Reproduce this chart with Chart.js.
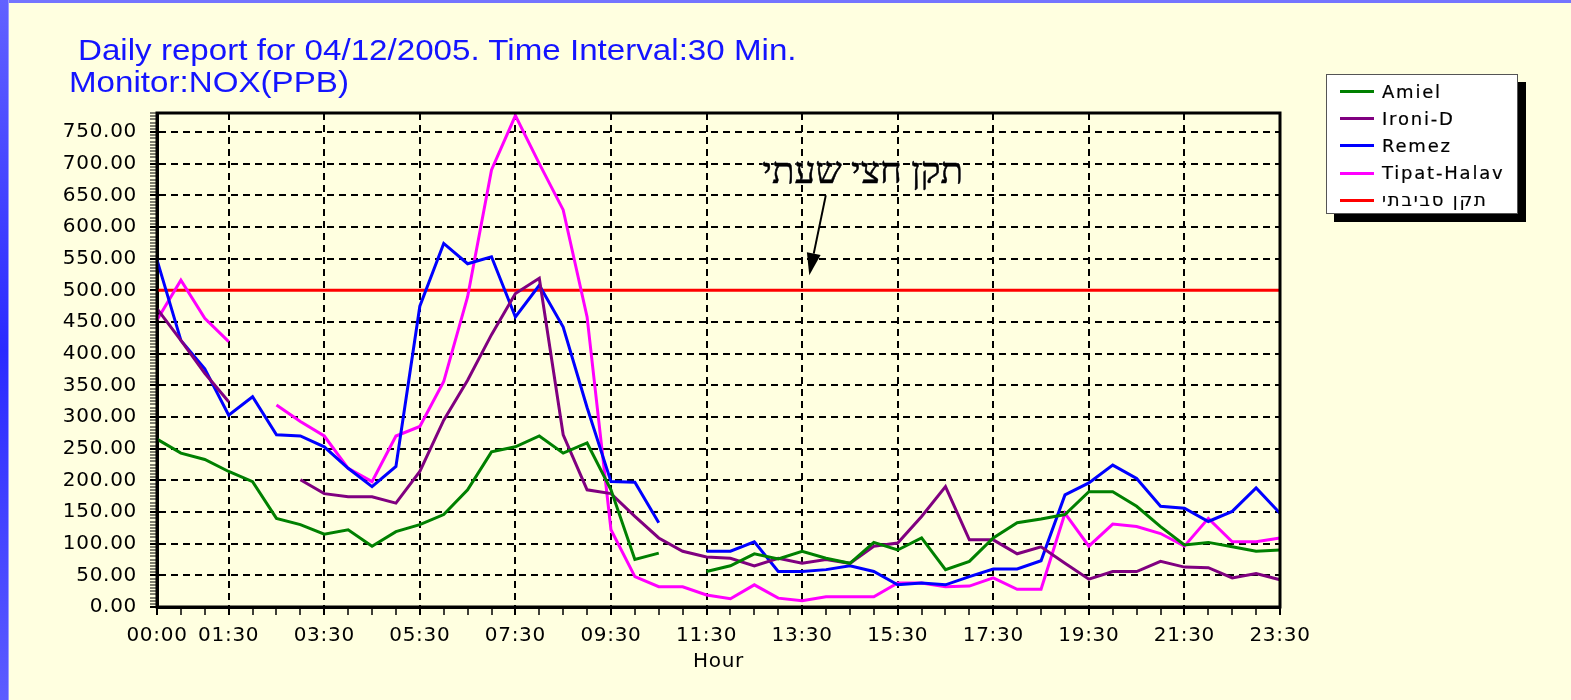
<!DOCTYPE html>
<html>
<head>
<meta charset="utf-8">
<script src="https://cdn.jsdelivr.net/npm/chart.js@4.4.0/dist/chart.umd.min.js"></script>
<style>
  html, body { margin: 0; padding: 0; }
  body { width: 1571px; height: 700px; background: #FFFFE0; position: relative; overflow: hidden; font-family: "DejaVu Sans", sans-serif; }
  #c { position: absolute; left: 0; top: 0; }
  #leftbar { position: absolute; left: 0; top: 0; width: 8px; height: 700px; background: linear-gradient(#6262ff, #2a2aff 50%, #5c5cff); border-right: 1px solid #9a9aff; }
  #topbar { position: absolute; left: 0; top: 0; width: 1571px; height: 3px; background: #7474ff; }
  .title { position: absolute; font-family: "Liberation Sans", Arial, sans-serif; font-size: 29px; line-height: 29px; color: #1414ff; white-space: nowrap; transform-origin: 0 0; transform: scaleX(1.143); }
  #legend { position: absolute; left: 1326px; top: 74px; width: 190px; height: 138px; background: #fff; border: 1px solid #555; box-shadow: 8px 8px 0 #000; }
  .row { position: absolute; left: 0; width: 190px; height: 20px; }
  .swatch { position: absolute; left: 13px; top: 8.5px; width: 34px; height: 3px; }
  .lbl { position: absolute; left: 55px; top: 0; font-size: 18px; line-height: 20px; letter-spacing: 1.8px; white-space: nowrap; color: #000; -webkit-text-stroke: 0.2px #000; }
  .lbl.he { direction: rtl; unicode-bidi: isolate; }
  #note { position: absolute; left: 700px; top: 152px; width: 263px; text-align: right; direction: rtl; font-family: "Liberation Serif", "DejaVu Serif", serif; font-size: 37px; line-height: 37px; color: #000; white-space: nowrap; -webkit-text-stroke: 0.5px #000; text-shadow: 0 0 2px #fff, 0 0 2px #fff; }
</style>
</head>
<body>
<canvas id="c" width="1571" height="700"></canvas>
<div id="topbar"></div>
<div id="leftbar"></div>
<div class="title" style="left:78px; top:36px;">Daily report for 04/12/2005. Time Interval:30 Min.</div>
<div class="title" style="left:69px; top:68px;">Monitor:NOX(PPB)</div>
<div id="note">תקן חצי שעתי</div>
<div id="legend"></div>
<script>
// ---- data ----
const hours = ['00:00','00:30','01:00','01:30','02:00','02:30','03:00','03:30','04:00','04:30','05:00','05:30',
  '06:00','06:30','07:00','07:30','08:00','08:30','09:00','09:30','10:00','10:30','11:00','11:30',
  '12:00','12:30','13:00','13:30','14:00','14:30','15:00','15:30','16:00','16:30','17:00','17:30',
  '18:00','18:30','19:00','19:30','20:00','20:30','21:00','21:30','22:00','22:30','23:00','23:30'];
const shownHours = ['00:00','01:30','03:30','05:30','07:30','09:30','11:30','13:30','15:30','17:30','19:30','21:30','23:30'];

const amiel = [265,243,233,214,198,140,130,115,122,96,119,130,146,185,245,253,270,243,259,185,75,85,null,56,
  65,84,76,88,77,69,102,90,109,59,72,109,133,139,146,182,182,159,127,98,102,95,88,90];
const ironiD = [471,421,369,324,null,null,201,179,174,174,164,214,295,358,430,495,519,272,185,179,143,109,88,79,
  77,65,77,69,75,69,96,101,143,190,106,106,84,95,69,44,56,56,72,63,62,46,53,43];
const remez = [548,421,376,303,332,272,270,253,219,190,222,475,574,542,553,458,508,442,315,198,197,133,null,88,
  88,103,56,56,59,65,56,35,38,35,48,60,60,73,177,196,224,203,159,156,135,151,188,148];
const tipatHalav = [453,516,456,419,null,319,293,270,219,198,270,285,356,490,690,776,700,627,458,122,48,32,32,19,
  13,35,14,10,16,16,16,38,38,32,33,46,28,28,148,96,131,127,116,96,140,103,103,109];
const envStandard = [500,500,500,500,500,500,500,500,500,500,500,500,500,500,500,500,500,500,500,500,500,500,500,500,
  500,500,500,500,500,500,500,500,500,500,500,500,500,500,500,500,500,500,500,500,500,500,500,500];

const seriesNames = ['Amiel','Ironi-D','Remez','Tipat-Halav','תקן סביבתי'];
const seriesColors = ['#008000','#800080','#0000ff','#ff00ff','#ff0000'];
const seriesValues = [amiel, ironiD, remez, tipatHalav, envStandard];

const yMax = 780, yMinorStep = 5, yMajorStep = 50;
// annotation arrow (in data units: x = category index, y = value)
const arrowTail = { x: 27.99, y: 650 };
const arrowTip = { x: 27.3, y: 524 };

// ---- plugins ----
const spacing = {
  id: 'spacing',
  beforeLayout(c) { c.ctx.letterSpacing = '0.7px'; },
  beforeDraw(c) { c.ctx.letterSpacing = '0.7px'; }
};
const frame = {
  id: 'frame',
  afterDatasetsDraw(c) {
    const { ctx, chartArea: a } = c;
    ctx.save();
    ctx.lineWidth = 3;
    ctx.strokeStyle = '#000';
    ctx.setLineDash([]);
    ctx.strokeRect(a.left, a.top, a.right - a.left, a.bottom - a.top);
    ctx.restore();
  }
};
const arrow = {
  id: 'arrow',
  afterDatasetsDraw(c) {
    const { ctx } = c;
    const xs = c.scales.x, ys = c.scales.y;
    const tx = xs.getPixelForValue(arrowTail.x), ty = ys.getPixelForValue(arrowTail.y);
    const hx = xs.getPixelForValue(arrowTip.x), hy = ys.getPixelForValue(arrowTip.y);
    const dx = hx - tx, dy = hy - ty, len = Math.hypot(dx, dy);
    const ux = dx / len, uy = dy / len;
    const headLen = 22, headHalf = 7;
    const bx = hx - ux * headLen, by = hy - uy * headLen;
    ctx.save();
    ctx.strokeStyle = '#000';
    ctx.fillStyle = '#000';
    ctx.lineWidth = 2;
    ctx.beginPath(); ctx.moveTo(tx, ty); ctx.lineTo(bx, by); ctx.stroke();
    ctx.beginPath();
    ctx.moveTo(hx, hy);
    ctx.lineTo(bx - uy * headHalf, by + ux * headHalf);
    ctx.lineTo(bx + uy * headHalf, by - ux * headHalf);
    ctx.closePath(); ctx.fill();
    ctx.restore();
  }
};

Chart.defaults.font.family = '"DejaVu Sans", sans-serif';
Chart.defaults.color = '#000';

const chart = new Chart(document.getElementById('c'), {
  type: 'line',
  data: {
    labels: hours,
    datasets: seriesNames.map((name, i) => ({
      label: name,
      data: seriesValues[i],
      borderColor: seriesColors[i],
      backgroundColor: seriesColors[i],
      borderWidth: 3,
      pointRadius: 0,
      pointHoverRadius: 0,
      tension: 0,
      fill: false,
      spanGaps: false
    }))
  },
  options: {
    responsive: false,
    animation: false,
    devicePixelRatio: 1,
    layout: { padding: { top: 113, right: 291, bottom: 0, left: 0 } },
    plugins: { legend: { display: false }, tooltip: { enabled: false } },
    scales: {
      x: {
        type: 'category',
        offset: false,
        afterFit(s) { s.height = 93; },
        grid: {
          offset: false,
          color: (ctx) => (ctx.index > 0 && shownHours.includes(hours[ctx.index])) ? '#000' : 'rgba(0,0,0,0)',
          lineWidth: 2,
          tickColor: '#000',
          tickLength: 8,
          tickWidth: (ctx) => shownHours.includes(hours[ctx.index]) ? 2 : 1.5
        },
        border: { display: true, color: '#000', width: 3, dash: [7, 5] },
        ticks: {
          autoSkip: false,
          maxRotation: 0,
          minRotation: 0,
          padding: 9,
          font: { size: 20 },
          color: '#000',
          callback: (v, i) => shownHours.includes(hours[i]) ? hours[i] : ''
        },
        title: { display: true, text: 'Hour', font: { size: 20 }, color: '#000', padding: { top: 0, bottom: 26 } }
      },
      y: {
        min: 0,
        max: yMax,
        afterFit(s) { s.width = 157; },
        grid: {
          color: (ctx) => (ctx.tick && ctx.tick.value > 0 && ctx.tick.value % yMajorStep === 0) ? '#000' : 'rgba(0,0,0,0)',
          lineWidth: 2,
          tickColor: '#000',
          tickLength: 7,
          tickWidth: (ctx) => (ctx.tick && ctx.tick.value % yMajorStep === 0) ? 2 : 1
        },
        border: { display: true, color: '#000', width: 3, dash: [7, 5] },
        ticks: {
          stepSize: yMinorStep,
          autoSkip: false,
          padding: 13,
          font: { size: 20 },
          color: '#000',
          callback: (v) => (v % yMajorStep === 0) ? v.toFixed(2) : ''
        }
      }
    }
  },
  plugins: [spacing, frame, arrow]
});

// HTML legend built from the chart's datasets
const lg = document.getElementById('legend');
chart.data.datasets.forEach((ds, i) => {
  const row = document.createElement('div');
  row.className = 'row';
  row.style.top = (6.7 + i * 27.1) + 'px';
  const sw = document.createElement('div');
  sw.className = 'swatch';
  sw.style.background = ds.borderColor;
  const lb = document.createElement('div');
  lb.className = 'lbl' + (/[\u0590-\u05FF]/.test(ds.label) ? ' he' : '');
  lb.textContent = ds.label;
  row.appendChild(sw); row.appendChild(lb);
  lg.appendChild(row);
});
</script>
</body>
</html>
